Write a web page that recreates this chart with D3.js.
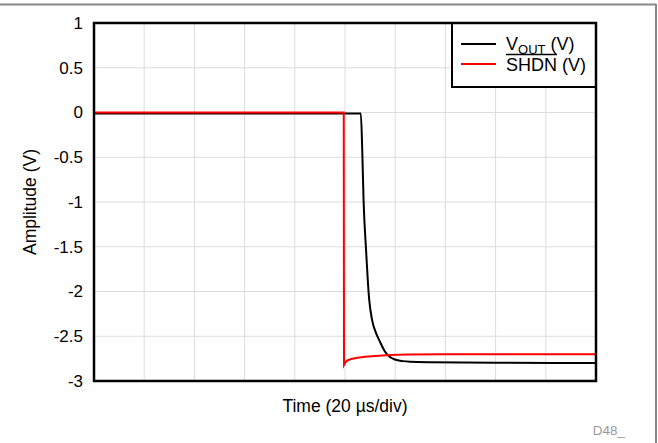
<!DOCTYPE html>
<html>
<head>
<meta charset="utf-8">
<script src="https://cdn.jsdelivr.net/npm/d3@7"></script>
<style>
  body { margin: 0; background: #fff; }
  svg { display: block; font-family: Arial, "Liberation Sans", sans-serif; }
</style>
</head>
<body>
<div id="chart"></div>
<script>
// tick labels
var yTicks = [1, 0.5, 0, -0.5, -1, -1.5, -2, -2.5, -3];
var xGrid = [0, 20, 40, 60, 80, 100, 120, 140, 160, 180, 200]; // µs, 20 µs/div

// SHDN (red) - time in µs, amplitude in V
var shdnTime = [0, 20, 40, 60, 80, 99.5, 99.6, 100.2, 101, 102.5, 105, 108, 112, 118, 125, 140, 160, 200];
var shdnVal  = [0, 0, 0, 0, 0, 0, -2.82, -2.79, -2.77, -2.755, -2.74, -2.73, -2.72, -2.71, -2.705, -2.70, -2.70, -2.70];

// VOUT (black)
var voutTime = [0, 40, 80, 106.3, 106.9, 107.4, 108.4, 109.6, 110.8, 112.3, 113.9, 115.9, 117.8, 119.9, 123, 126, 134, 160, 200];
var voutVal  = [-0.01, -0.01, -0.01, -0.01, -0.45, -0.98, -1.54, -2.08, -2.32, -2.46, -2.56, -2.67, -2.73, -2.76, -2.778, -2.785, -2.79, -2.795, -2.80];

drawChart();

function drawChart() {
  var width = 658, height = 443;
  var margin = {top: 23, right: 62, bottom: 62, left: 94};

  var svg = d3.select("#chart").append("svg")
      .attr("width", width).attr("height", height);

  // outer frame (top + right only)
  svg.append("line").attr("x1", 0).attr("x2", 656).attr("y1", 4.5).attr("y2", 4.5)
      .attr("stroke", "#888").attr("stroke-width", 2);
  svg.append("line").attr("x1", 656).attr("x2", 656).attr("y1", 4).attr("y2", 443)
      .attr("stroke", "#888").attr("stroke-width", 2);

  var x = d3.scaleLinear().domain([0, 200]).range([margin.left, width - margin.right]);
  var y = d3.scaleLinear().domain([-3, 1]).range([height - margin.bottom, margin.top]);

  // grid
  svg.append("g").selectAll("line").data(xGrid.slice(1, -1)).enter().append("line")
      .attr("x1", function(d) { return x(d); }).attr("x2", function(d) { return x(d); })
      .attr("y1", y(1)).attr("y2", y(-3))
      .attr("stroke", "#dcdcdc").attr("stroke-width", 1);
  svg.append("g").selectAll("line").data(yTicks.slice(1, -1)).enter().append("line")
      .attr("y1", function(d) { return y(d); }).attr("y2", function(d) { return y(d); })
      .attr("x1", x(0)).attr("x2", x(200))
      .attr("stroke", "#dcdcdc").attr("stroke-width", 1);

  // y axis labels
  var yAxis = d3.axisLeft(y).tickValues(yTicks).tickSize(0).tickPadding(11)
      .tickFormat(function(d) { return d; });
  var ga = svg.append("g").attr("transform", "translate(" + x(0) + ",0)").call(yAxis);
  ga.select(".domain").remove();
  ga.selectAll("text").attr("font-size", 17).attr("fill", "#000")
      .attr("font-family", "Arial, 'Liberation Sans', sans-serif");

  // series
  var line = d3.line()
      .x(function(d) { return x(d[0]); })
      .y(function(d) { return y(d[1]); });

  svg.append("path").datum(d3.zip(voutTime, voutVal))
      .attr("d", line.curve(d3.curveMonotoneX)).attr("fill", "none").attr("stroke", "#000").attr("stroke-width", 2);
  svg.append("path").datum(d3.zip(shdnTime, shdnVal))
      .attr("d", line.curve(d3.curveLinear)).attr("fill", "none").attr("stroke", "#f00").attr("stroke-width", 2);

  // legend
  var lg = svg.append("g");
  lg.append("rect").attr("x", 452).attr("y", y(1)).attr("width", x(200) - 452).attr("height", 64)
      .attr("fill", "#fff").attr("stroke", "#000").attr("stroke-width", 2);
  lg.append("line").attr("x1", 461).attr("x2", 496).attr("y1", 44).attr("y2", 44)
      .attr("stroke", "#000").attr("stroke-width", 2);
  lg.append("line").attr("x1", 461).attr("x2", 496).attr("y1", 64).attr("y2", 64)
      .attr("stroke", "#f00").attr("stroke-width", 2);
  var t1 = lg.append("text").attr("x", 506).attr("y", 50).attr("font-size", 18);
  t1.append("tspan").text("V");
  t1.append("tspan").attr("font-size", 13).attr("dy", 4).text("OUT");
  t1.append("tspan").attr("dy", -4).text(" (V)");
  var t2 = lg.append("text").attr("x", 506).attr("y", 71).attr("font-size", 18);
  var sh = t2.append("tspan").text("SHDN");
  t2.append("tspan").text(" (V)");
  var shw = sh.node().getComputedTextLength();
  lg.append("line").attr("x1", 506).attr("x2", 506 + shw).attr("y1", 54.5).attr("y2", 54.5)
      .attr("stroke", "#000").attr("stroke-width", 1.5);

  // plot frame
  svg.append("rect").attr("x", x(0)).attr("y", y(1))
      .attr("width", x(200) - x(0)).attr("height", y(-3) - y(1))
      .attr("fill", "none").attr("stroke", "#000").attr("stroke-width", 2.5);

  // axis titles
  svg.append("text").attr("x", (x(0) + x(200)) / 2).attr("y", 412)
      .attr("text-anchor", "middle").attr("font-size", 17.5).text("Time (20 µs/div)");
  svg.append("text").attr("transform", "translate(36," + (y(1) + y(-3)) / 2 + ") rotate(-90)")
      .attr("text-anchor", "middle").attr("font-size", 17.5).text("Amplitude (V)");

  svg.append("text").attr("x", 625).attr("y", 435).attr("text-anchor", "end")
      .attr("font-size", 13.5).attr("fill", "#999").text("D48_");
}
</script>
</body>
</html>
